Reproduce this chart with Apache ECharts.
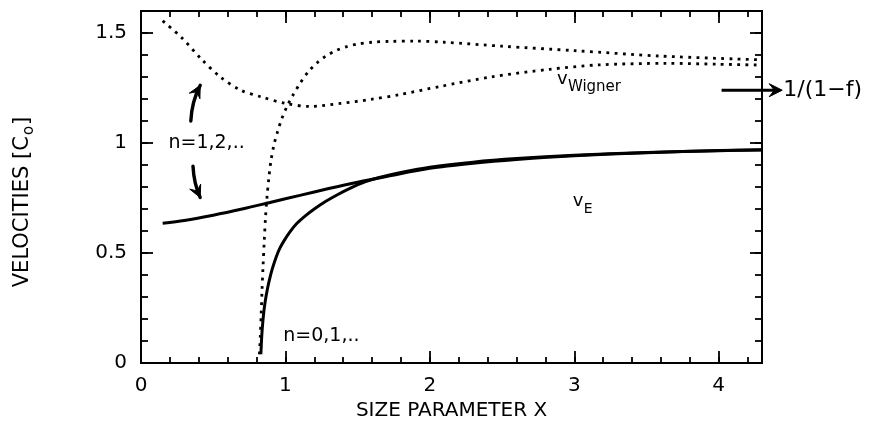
<!DOCTYPE html>
<html>
<head>
<meta charset="utf-8">
<script src="https://cdn.jsdelivr.net/npm/echarts@6/dist/echarts.min.js"></script>
<style>
  html, body { margin: 0; padding: 0; background: #fff; }
  #chart { width: 873px; height: 426px; }
</style>
</head>
<body>
<div id="chart"></div>
<script>
const FONT = 'DejaVu Sans';

// Axis ranges and tick labels
const xRange = [0, 4.3];
const yRange = [0, 1.6];
const xTickLabels = ['0', '1', '2', '3', '4'];
const yTickLabels = ['0', '0.5', '1', '1.5'];

// Energy velocity, branch n = 1,2,..
const veUpperX = [0.15, 0.3, 0.5, 0.7, 0.9, 1.1, 1.3, 1.5, 1.7, 2.0, 2.3, 2.6, 3.0, 3.5, 4.0, 4.3];
const veUpperY = [0.635, 0.648, 0.672, 0.700, 0.731, 0.762, 0.793, 0.822, 0.848, 0.885, 0.908, 0.925, 0.942, 0.956, 0.965, 0.968];

// Energy velocity, branch n = 0,1,..
const veLowerX = [0.83, 0.835, 0.84, 0.85, 0.86, 0.875, 0.89, 0.91, 0.935, 0.96, 0.99, 1.03, 1.08, 1.14, 1.2, 1.28, 1.36, 1.45, 1.55, 1.65, 1.8, 2.0, 2.3, 2.6, 3.0, 3.5, 4.0, 4.3];
const veLowerY = [0.04, 0.11, 0.16, 0.23, 0.28, 0.335, 0.38, 0.43, 0.48, 0.52, 0.555, 0.595, 0.635, 0.67, 0.70, 0.735, 0.765, 0.795, 0.823, 0.843, 0.866, 0.890, 0.913, 0.929, 0.944, 0.957, 0.966, 0.969];

// Wigner velocity, branch n = 1,2,..
const vwUpperX = [0.15, 0.28, 0.42, 0.55, 0.69, 0.83, 1.0, 1.17, 1.38, 1.59, 1.79, 2.07, 2.42, 2.83, 3.17, 3.64, 4.0, 4.3];
const vwUpperY = [1.555, 1.48, 1.38, 1.30, 1.24, 1.21, 1.18, 1.166, 1.18, 1.198, 1.22, 1.257, 1.30, 1.335, 1.355, 1.362, 1.358, 1.354];

// Wigner velocity, branch n = 0,1,..
const vwLowerX = [0.82, 0.826, 0.832, 0.838, 0.845, 0.853, 0.862, 0.872, 0.885, 0.9, 0.92, 0.945, 0.975, 1.01, 1.05, 1.1, 1.16, 1.22, 1.28, 1.35, 1.42, 1.5, 1.6, 1.72, 1.9, 2.1, 2.5, 3.0, 3.6, 4.3];
const vwLowerY = [0.04, 0.12, 0.22, 0.33, 0.44, 0.55, 0.66, 0.75, 0.84, 0.92, 0.99, 1.05, 1.11, 1.165, 1.215, 1.27, 1.325, 1.365, 1.395, 1.42, 1.437, 1.45, 1.458, 1.462, 1.463, 1.458, 1.44, 1.42, 1.395, 1.378];

// High-frequency limit marker
const limitValue = 1.24;

const pairs = (xs, ys) => xs.map((x, i) => [x, ys[i]]);

const chart = echarts.init(document.getElementById('chart'), null, { renderer: 'canvas' });

const labelStyle = { fontFamily: FONT, fontSize: 20, color: '#000' };

function xAxisDef(position, interval, tickLen, withLabels) {
  return {
    type: 'value', gridIndex: 0, position,
    min: xRange[0], max: xRange[1], interval,
    axisLine: { show: true, onZero: false, lineStyle: { color: '#000', width: 2 } },
    axisTick: { show: true, inside: true, length: tickLen, lineStyle: { color: '#000', width: 1.8 } },
    axisLabel: withLabels ? Object.assign({
      show: true, margin: 13, showMaxLabel: false,
      formatter: v => xTickLabels.includes(String(v)) ? String(v) : ''
    }, labelStyle) : { show: false },
    splitLine: { show: false }
  };
}

function yAxisDef(position, interval, tickLen, withLabels) {
  return {
    type: 'value', gridIndex: 0, position,
    min: yRange[0], max: yRange[1], interval,
    axisLine: { show: true, onZero: false, lineStyle: { color: '#000', width: 2 } },
    axisTick: { show: true, inside: true, length: tickLen, lineStyle: { color: '#000', width: 1.8 } },
    axisLabel: withLabels ? Object.assign({
      show: true, margin: 14, showMaxLabel: false,
      formatter: v => yTickLabels.includes(String(v)) ? String(v) : ''
    }, labelStyle) : { show: false },
    splitLine: { show: false }
  };
}

const xMain = xAxisDef('bottom', 1, 12, true);
xMain.name = 'SIZE PARAMETER X';
xMain.nameLocation = 'middle';
xMain.nameGap = 25;
xMain.nameTextStyle = { fontFamily: FONT, fontSize: 20, color: '#000', verticalAlign: 'top' };

const yMain = yAxisDef('left', 0.5, 12, true);
yMain.name = '{a|VELOCITIES [C}{s|o}{a|]}';
yMain.nameLocation = 'middle';
yMain.nameGap = 108;
yMain.nameTextStyle = {
  color: '#000',
  padding: [0, 30, 0, 0],
  rich: {
    a: { fontFamily: FONT, fontSize: 21, lineHeight: 21, verticalAlign: 'top', color: '#000' },
    s: { fontFamily: FONT, fontSize: 15, lineHeight: 15, padding: [10, 1, 0, 1], verticalAlign: 'top', color: '#000' }
  }
};

const solidLine = { color: '#000', width: 3 };
const dottedLine = { color: '#000', width: 2.8, type: [2.8, 5.4], cap: 'butt' };

const baseSeries = {
  type: 'line', xAxisIndex: 0, yAxisIndex: 0,
  symbol: 'none', showSymbol: false, smooth: 0.3, clip: true,
  animation: false, silent: true
};

chart.setOption({
  animation: false,
  backgroundColor: '#fff',
  grid: { left: 141, right: 111, top: 11, bottom: 63, containLabel: false },
  xAxis: [
    xMain,
    xAxisDef('bottom', 0.2, 6, false),
    xAxisDef('top', 1, 12, false),
    xAxisDef('top', 0.2, 6, false)
  ],
  yAxis: [
    yMain,
    yAxisDef('left', 0.1, 7, false),
    yAxisDef('right', 0.5, 12, false),
    yAxisDef('right', 0.1, 7, false)
  ],
  series: [
    Object.assign({}, baseSeries, { name: 'vE n=1,2', data: pairs(veUpperX, veUpperY), lineStyle: solidLine }),
    Object.assign({}, baseSeries, { name: 'vE n=0,1', data: pairs(veLowerX, veLowerY), lineStyle: solidLine }),
    Object.assign({}, baseSeries, { name: 'vW n=1,2', data: pairs(vwUpperX, vwUpperY), lineStyle: dottedLine }),
    Object.assign({}, baseSeries, { name: 'vW n=0,1', data: pairs(vwLowerX, vwLowerY), lineStyle: dottedLine })
  ]
});

// Annotations, anchored in data coordinates
const P = (x, y) => chart.convertToPixel({ xAxisIndex: 0, yAxisIndex: 0 }, [x, y]);

function arrowHead(tip, from, len, half) {
  const dx = tip[0] - from[0], dy = tip[1] - from[1];
  const d = Math.hypot(dx, dy) || 1;
  const ux = dx / d, uy = dy / d;
  const bx = tip[0] - ux * len, by = tip[1] - uy * len;
  return {
    type: 'polygon',
    shape: { points: [tip, [bx - uy * half, by + ux * half], [tip[0] - ux * len * 0.6, tip[1] - uy * len * 0.6], [bx + uy * half, by - ux * half]] },
    style: { fill: '#000', stroke: '#000', lineWidth: 1 },
    silent: true
  };
}

function curvedArrow(a, c, b) {
  const pa = P(a[0], a[1]), pc = P(c[0], c[1]), pb = P(b[0], b[1]);
  return [
    {
      type: 'bezierCurve',
      shape: { x1: pa[0], y1: pa[1], cpx1: pc[0], cpy1: pc[1], x2: pb[0], y2: pb[1] },
      style: { stroke: '#000', lineWidth: 3.4, fill: null, lineCap: 'round' },
      silent: true
    },
    arrowHead(pb, pc, 12, 6)
  ];
}

function text(x, y, str, size) {
  const p = P(x, y);
  return {
    type: 'text', x: p[0], y: p[1], silent: true,
    style: { text: str, fontFamily: FONT, fontSize: size, fill: '#000', align: 'left', verticalAlign: 'middle' }
  };
}

function subscripted(x, y, main, sub, mainSize, subSize, dx, dy) {
  const p = P(x, y);
  return [
    { type: 'text', x: p[0], y: p[1], silent: true,
      style: { text: main, fontFamily: FONT, fontSize: mainSize, fill: '#000', align: 'left', verticalAlign: 'middle' } },
    { type: 'text', x: p[0] + dx, y: p[1] + dy, silent: true,
      style: { text: sub, fontFamily: FONT, fontSize: subSize, fill: '#000', align: 'left', verticalAlign: 'middle' } }
  ];
}

const limitStart = P(4.02, limitValue);
const limitTip = P(4.44, limitValue);

const graphics = [].concat(
  curvedArrow([0.345, 1.10], [0.352, 1.19], [0.41, 1.262]),
  curvedArrow([0.36, 0.895], [0.366, 0.815], [0.41, 0.752]),
  [text(0.19, 1.0, 'n=1,2,..', 19)],
  [text(0.985, 0.123, 'n=0,1,..', 19)],
  subscripted(2.88, 1.29, 'v', 'Wigner', 18, 15, 11, 8),
  subscripted(2.99, 0.735, 'v', 'E', 18, 14, 11, 8),
  [
    {
      type: 'line',
      shape: { x1: limitStart[0], y1: limitStart[1], x2: limitTip[0] - 6, y2: limitTip[1] },
      style: { stroke: '#000', lineWidth: 3 }, silent: true
    },
    arrowHead(limitTip, limitStart, 13, 6.5),
    {
      type: 'text', x: limitTip[0] + 1, y: limitTip[1], silent: true,
      style: { text: '1/(1\u2212f)', fontFamily: FONT, fontSize: 22, fill: '#000', align: 'left', verticalAlign: 'middle' }
    }
  ]
);

chart.setOption({ graphic: graphics });
</script>
</body>
</html>
